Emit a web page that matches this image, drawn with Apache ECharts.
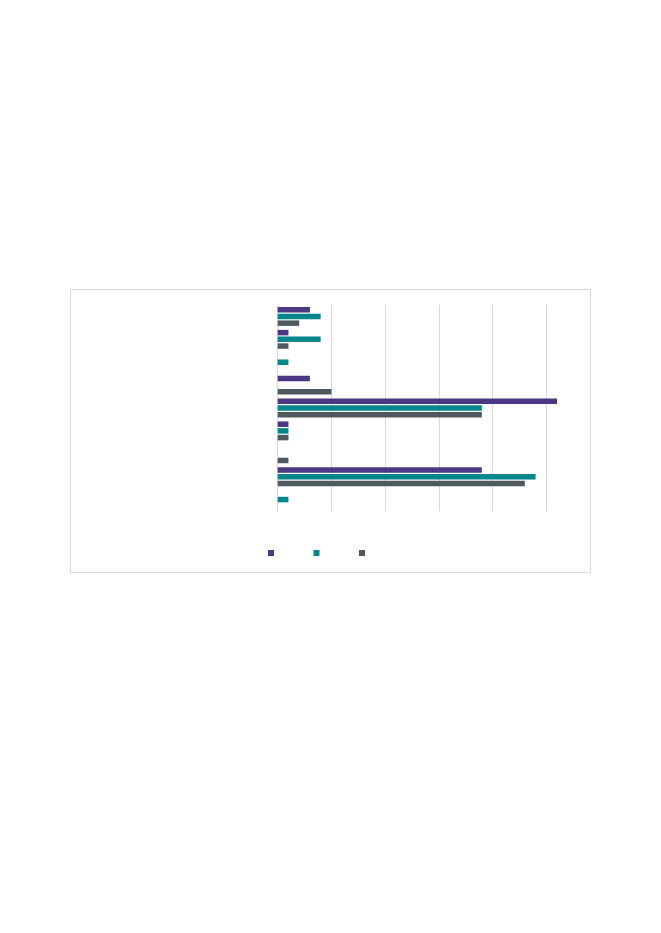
<!DOCTYPE html>
<html>
<head>
<meta charset="utf-8">
<script src="https://cdn.jsdelivr.net/npm/echarts@6/dist/echarts.min.js"></script>
<style>
html,body{margin:0;padding:0;background:#fff;}
#chart{width:661px;height:933px;}
</style>
</head>
<body>
<div id="chart"></div>
<script>
const categories = ['1', '2', '3', '4', '5', '6', '7', '8', '9'];
const seriesNames = ['Series A', 'Series B', 'Series C'];
const seriesA = [3, 1, 0, 3, 26, 1, 0, 19, 0];
const seriesB = [4, 4, 1, 0, 19, 1, 0, 24, 1];
const seriesC = [2, 1, 0, 5, 19, 1, 1, 23, 0];
const colors = ['#4b3784', '#00868b', '#4e5a60'];

const chart = echarts.init(document.getElementById('chart'), null, {renderer: 'canvas'});
const mk = (name, data, color) => ({
  name: name,
  type: 'bar',
  data: data,
  barWidth: 5.5,
  barGap: '22%',
  clip: false,
  itemStyle: {color: color},
  emphasis: {disabled: true}
});
chart.setOption({
  animation: false,
  color: colors,
  graphic: [{
    type: 'rect',
    shape: {x: 70.5, y: 289.5, width: 520, height: 283},
    style: {fill: 'none', stroke: '#d9d9d9', lineWidth: 1},
    silent: true
  }],
  grid: {left: 277.7, right: 114.7, top: 305, bottom: 422, containLabel: false},
  xAxis: {
    type: 'value', min: 0, max: 25, interval: 5,
    axisLine: {show: false}, axisTick: {show: false}, axisLabel: {show: false},
    splitLine: {show: true, lineStyle: {color: '#d9d9d9', width: 1}}
  },
  yAxis: {
    type: 'category', data: categories, inverse: true,
    axisLine: {show: false}, axisTick: {show: false}, axisLabel: {show: false},
    splitLine: {show: false}
  },
  legend: {
    data: seriesNames,
    left: 268, top: 550, padding: 0,
    itemWidth: 6, itemHeight: 6, itemGap: 39.5,
    icon: 'rect',
    formatter: () => '',
    selectedMode: false
  },
  series: [
    mk(seriesNames[0], seriesA, colors[0]),
    mk(seriesNames[1], seriesB, colors[1]),
    mk(seriesNames[2], seriesC, colors[2])
  ]
});
</script>
</body>
</html>
